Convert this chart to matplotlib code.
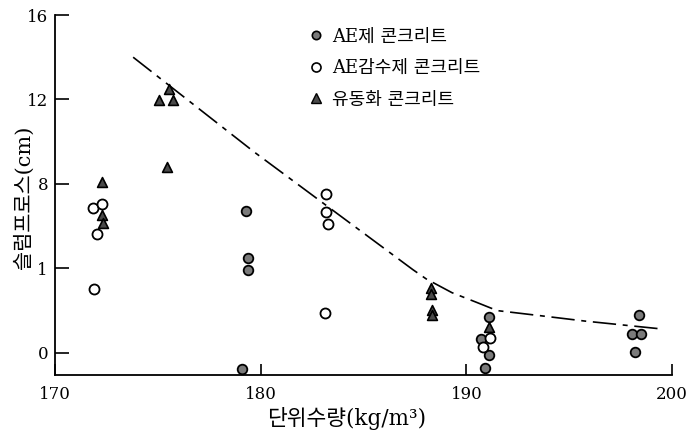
import matplotlib
matplotlib.use("Agg")
import matplotlib.pyplot as plt
from matplotlib.lines import Line2D

plt.rcParams['font.family'] = ['DejaVu Serif', 'Noto Sans CJK KR']

# AE제 콘크리트 (filled grey circles)
ae_x = [179.3, 179.4, 179.4, 179.1, 191.1, 190.7, 191.1, 190.9, 198.4, 198.05, 198.5, 198.2]
ae_y = [6.7, 4.5, 3.9, -0.75, 1.7, 0.64, -0.1, -0.7, 1.8, 0.88, 0.88, 0.03]

# AE감수제 콘크리트 (open circles)
wr_x = [171.85, 172.3, 172.05, 171.9, 183.2, 183.2, 183.27, 183.15, 191.15, 190.8]
wr_y = [6.85, 7.04, 5.64, 3.0, 7.52, 6.68, 6.09, 1.91, 0.68, 0.29]

# 유동화 콘크리트 (triangles)
fl_x = [172.3, 172.28, 172.35, 175.55, 175.05, 175.75, 175.45, 188.27, 188.27, 188.35, 188.35, 191.08]
fl_y = [8.08, 6.54, 6.14, 12.5, 11.99, 11.99, 8.8, 3.08, 2.78, 2.03, 1.77, 1.22]

# dash-dot boundary line
line_x = [173.8, 179.7, 187.4, 188.05, 189.3, 190.5, 191.5, 193.5, 195.8, 199.3]
line_y = [14.0, 9.5, 3.94, 3.5, 2.85, 2.39, 2.0, 1.77, 1.5, 1.15]

x_ticks = [170, 180, 190, 200]
x_tick_labels = ['170', '180', '190', '200']
y_ticks = [0, 4, 8, 12, 16]
y_tick_labels = ['0', '1', '8', '12', '16']

labels = ['AE제 콘크리트', 'AE감수제 콘크리트', '유동화 콘크리트']

fig = plt.figure(figsize=(6.95, 4.37), dpi=100)
ax = fig.add_axes([55/695, (437-375)/437, (672-55)/695, (375-15)/437])

ax.plot(line_x, line_y, color='black', lw=1.2, linestyle=(0, (14, 4, 3, 4)), zorder=1)

ax.scatter(ae_x, ae_y, s=48, marker='o', facecolor='#7a7a7a', edgecolor='black', linewidths=1.3, zorder=3)
ax.scatter(wr_x, wr_y, s=52, marker='o', facecolor='white', edgecolor='black', linewidths=1.3, zorder=3)
ax.scatter(fl_x, fl_y, s=50, marker='^', facecolor='#4a4a4a', edgecolor='black', linewidths=1.2, zorder=3)

ax.set_xlim(170, 200)
ax.set_ylim(-1.05, 16)
ax.set_xticks(x_ticks)
ax.set_xticklabels(x_tick_labels, fontsize=12)
ax.set_yticks(y_ticks)
ax.set_yticklabels(y_tick_labels, fontsize=12)
ax.tick_params(axis='x', direction='in', length=8, width=1.2, pad=8)
ax.tick_params(axis='y', direction='in', length=10, width=1.2, pad=5)
for s in ['top', 'right']:
    ax.spines[s].set_visible(False)
for s in ['left', 'bottom']:
    ax.spines[s].set_linewidth(1.3)

ax.set_xlabel('단위수량(kg/m³)', fontsize=15.5)
ax.set_ylabel('슬럼프로스(cm)', fontsize=15)
ax.xaxis.set_label_coords(0.473, -0.09)
ax.yaxis.set_label_coords(-0.035, 0.494)

handles = [
    Line2D([], [], marker='o', ls='none', ms=6, mfc='#7a7a7a', mec='black', mew=1.2),
    Line2D([], [], marker='o', ls='none', ms=6.5, mfc='white', mec='black', mew=1.2),
    Line2D([], [], marker='^', ls='none', ms=7, mfc='#4a4a4a', mec='black', mew=1.0),
]
ax.legend(handles, labels, loc='upper left', bbox_to_anchor=(0.39, 0.995), frameon=False,
          fontsize=13, handletextpad=0.3, labelspacing=0.75, handlelength=1.1, borderaxespad=0.2)

fig.savefig('out.png', dpi=100)
